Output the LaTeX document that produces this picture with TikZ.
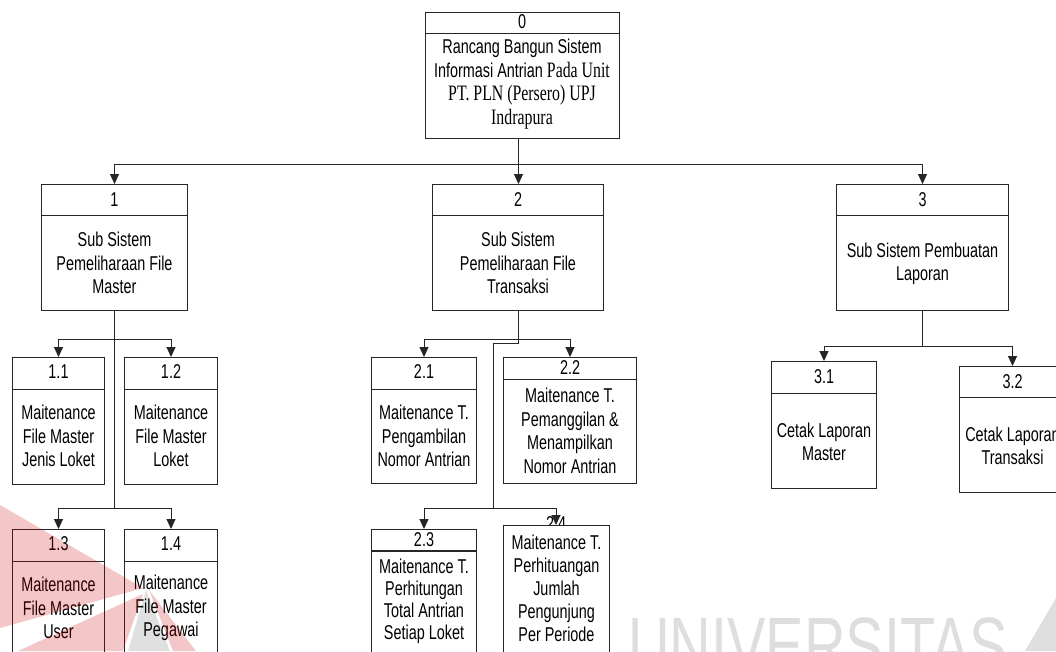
\documentclass[tikz,border=0pt]{standalone}
\usepackage{fontspec}
\setmainfont{Liberation Sans}[FakeStretch=0.72]
\newfontfamily\timesf{Liberation Serif}[FakeStretch=0.72]
\usetikzlibrary{arrows.meta}

\tikzset{
  box/.style={draw=black!85, line width=1pt, fill=white, inner sep=0pt, anchor=north west},
  label/.style={align=center, inner sep=0pt, font=\fontsize{20}{23.5}\selectfont},
  conn/.style={draw=black!85, line width=1pt},
  arr/.style={conn, -{Triangle[width=9pt,length=10pt]}},
  wmred/.style={fill=red!80!black, fill opacity=0.22},
  wmgrey/.style={fill=black, fill opacity=0.12}
}

% a titled box: name, x, top, width, height, divider y
\newcommand{\tbox}[6]{%
  \node[box, minimum width=#4pt, minimum height=#5pt] (#1) at (#2,#3) {};
  \draw[conn] (#1.west |- 0,#6) -- (#1.east |- 0,#6);
}

\begin{document}
\begin{tikzpicture}[x=1pt,y=-1pt]
\clip (0,0) rectangle (1056,651);
\fill[white] (0,0) rectangle (1056,651);

% background lettering
\node[anchor=north west, inner sep=0pt, text=black!13,
      font=\fontsize{80}{80}\selectfont] (wmtext) at (628,617) {UNIVERSITAS};
\fill[black!13] (1056,598) -- (1056,651) -- (1025,651) -- cycle;

% ---- level 0
\tbox{b0}{425}{12}{194}{126}{33}
\node[label] (n0) at (522,22) {0};
\node[label] (t0) at (522,84) {Rancang Bangun Sistem\\Informasi Antrian {\timesf\fontsize{22}{23.5}\selectfont Pada Unit}\\{\timesf\fontsize{22}{23.5}\selectfont PT. PLN (Persero) UPJ}\\{\timesf\fontsize{22}{23.5}\selectfont Indrapura}};

% ---- level 1
\tbox{b1}{41}{184}{146}{126}{215}
\node[label] (n1) at (b1.north |- 0,200) {1};
\node[label] (t1) at (b1.north |- 0,263) {Sub Sistem\\Pemeliharaan File\\Master};

\tbox{b2}{432}{184}{171}{126}{215}
\node[label] (n2) at (b2.north |- 0,200) {2};
\node[label] (t2) at (b2.north |- 0,263) {Sub Sistem\\Pemeliharaan File\\Transaksi};

\tbox{b3}{836}{184}{172}{126}{215}
\node[label] (n3) at (b3.north |- 0,200) {3};
\node[label] (t3) at (b3.north |- 0,264) {Sub Sistem Pembuatan\\Laporan};

% ---- level 2, branch 1
\tbox{b11}{12}{357}{92}{127}{389}
\node[label] (n11) at (b11.north |- 0,372) {1.1};
\node[label] (t11) at (b11.north |- 0,436) {Maitenance\\File Master\\Jenis Loket};

\tbox{b12}{124}{357}{93}{127}{389}
\node[label] (n12) at (b12.north |- 0,372) {1.2};
\node[label] (t12) at (b12.north |- 0,436) {Maitenance\\File Master\\Loket};

\tbox{b13}{12}{529}{92}{140}{561}
\node[label] (n13) at (b13.north |- 0,544) {1.3};
\node[label] (t13) at (b13.north |- 0,608) {Maitenance\\File Master\\User};

\tbox{b14}{124}{529}{93}{140}{561}
\node[label] (n14) at (b14.north |- 0,544) {1.4};
\node[label] (t14) at (b14.north |- 0,608) {Maitenance\\File Master\\Pegawai};

% ---- level 2, branch 2
\tbox{b21}{371}{357}{105}{126}{389}
\node[label] (n21) at (b21.north |- 0,372) {2.1};
\node[label] (t21) at (b21.north |- 0,436) {Maitenance T.\\Pengambilan\\Nomor Antrian};

\tbox{b22}{503}{357}{133}{126}{379}
\node[label] (n22) at (b22.north |- 0,368) {2.2};
\node[label] (t22) at (b22.north |- 0,431) {Maitenance T.\\Pemanggilan \&\\Menampilkan\\Nomor Antrian};

\node[box, minimum width=105pt, minimum height=140pt] (b23) at (371,529) {};
\draw[conn, line width=2pt] (b23.west |- 0,551) -- (b23.east |- 0,551);
\node[label] (n23) at (b23.north |- 0,540) {2.3};
\node[label, font=\fontsize{20}{22}\selectfont] (t23) at (b23.north |- 0,601) {Maitenance T.\\Perhitungan\\Total Antrian\\Setiap Loket};

% the number of 2.4 sits behind the top edge of its box
\node[label, anchor=north] (n24) at (556,516) {2.4};
\node[box, minimum width=106pt, minimum height=140pt] (b24) at (503,525) {};
\node[label, font=\fontsize{20}{23}\selectfont] (t24) at (b24.north |- 0,588) {Maitenance T.\\Perhituangan\\Jumlah\\Pengunjung\\Per Periode};

% ---- level 2, branch 3
\tbox{b31}{771}{361}{105}{127}{393}
\node[label] (n31) at (b31.north |- 0,377) {3.1};
\node[label] (t31) at (b31.north |- 0,442) {Cetak Laporan\\Master};

\tbox{b32}{959}{366}{106}{126}{397}
\node[label] (n32) at (b32.north |- 0,382) {3.2};
\node[label] (t32) at (b32.north |- 0,446) {Cetak Laporan\\Transaksi};

% ---- connectors
\draw[conn] ([xshift=-4pt]b0.south) -- ++(0,25) coordinate (j0);
\draw[arr] (j0) -| (b1.north);
\draw[arr] (j0) -| (b3.north);
\draw[arr] (j0) -- (j0 |- b2.north);

\draw[conn] (b1.south) -- ++(0,28) coordinate (j1) -- ++(0,169) coordinate (j1b);
\draw[arr] (j1) -| (b11.north);
\draw[arr] (j1) -| (b12.north);
\draw[arr] (j1b) -| (b13.north);
\draw[arr] (j1b) -| (b14.north);

\draw[conn] (b2.south) -- ++(0,28) coordinate (j2);
\draw[arr] (j2) -| (b21.north);
\draw[arr] (j2) -| (b22.north);
\draw[conn] (j2) -- ++(0,4) -- ++(-24.5,0) -- ++(0,165) coordinate (j2b);
\draw[arr] (j2b) -| (b23.north);
\draw[arr] (j2b) -| (n24.center |- b24.north);

\draw[conn] (b3.south) -- ++(0,35) coordinate (j3);
\draw[arr] (j3) -| (b31.north);
\draw[arr] (j3) -| (b32.north);

% translucent emblem in the lower left corner
\fill[wmred] (0,505) -- (143,588) -- (0,628) -- cycle;
\fill[wmred] (18,651) -- (143,594) -- (123,651) -- cycle;
\fill[wmgrey] (146,590) -- (170,651) -- (128,651) -- cycle;
\fill[wmred] (149,590) -- (196,651) -- (173,651) -- cycle;
\end{tikzpicture}
\end{document}
